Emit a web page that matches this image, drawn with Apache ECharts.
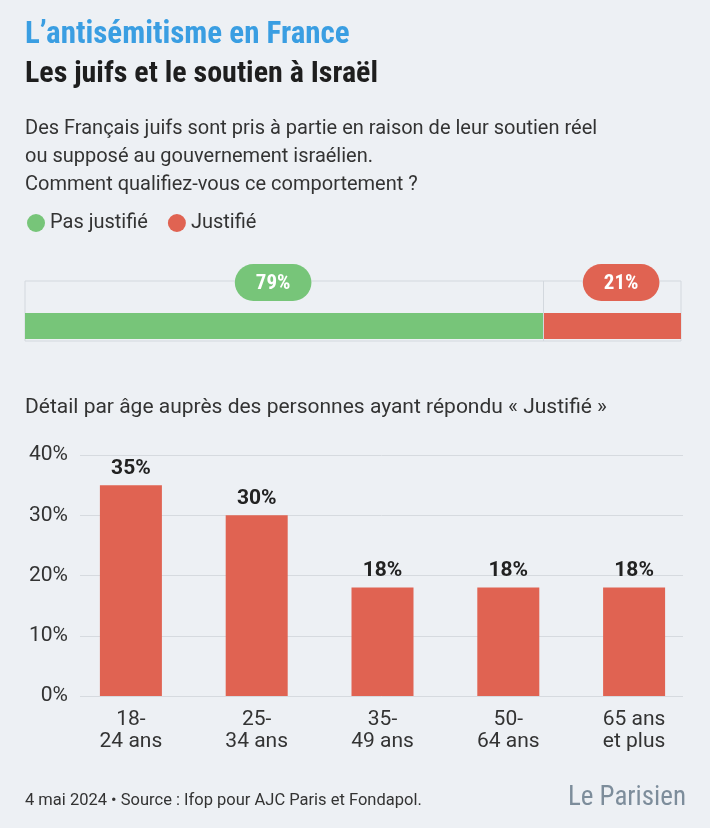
<!DOCTYPE html>
<html><head><meta charset="utf-8">
<script src="https://cdn.jsdelivr.net/npm/echarts@6/dist/echarts.min.js"></script>
<style>html,body{margin:0;padding:0;background:#edf0f4;}#c{width:710px;height:828px;}</style>
</head><body><div id="c"></div>
<script>
const COND = '"Roboto Condensed","Liberation Sans Narrow","DejaVu Sans Condensed","Roboto",sans-serif';
const FONT = '"Roboto","Liberation Sans",sans-serif';
const titleLines = ["L\u2019antisémitisme en France", "Les juifs et le soutien à Israël"];
const question = ["Des Français juifs sont pris à partie en raison de leur soutien réel", "ou supposé au gouvernement israélien.", "Comment qualifiez-vous ce comportement ?"];
const totalNames = ["Pas justifié", "Justifié"];
const totalValues = [79, 21];
const detailTitle = "Détail par âge auprès des personnes ayant répondu « Justifié »";
const ageCategories = ["18-\n24 ans", "25-\n34 ans", "35-\n49 ans", "50-\n64 ans", "65 ans\net plus"];
const ageValues = [35, 30, 18, 18, 18];
const yTicks = [0, 10, 20, 30, 40];
const footer = "4 mai 2024 • Source : Ifop pour AJC Paris et Fondapol.";
const logo = "Le Parisien";
const GREEN = '#77c579', RED = '#e06352';

const chart = echarts.init(document.getElementById('c'));
chart.setOption({
  backgroundColor: '#edf0f4',
  textStyle: {fontFamily: FONT},
  title: [
    {text: titleLines[0], left: 25, top: 20, padding: 0, textStyle: {fontFamily: COND, fontSize: 31, fontWeight: 'bold', color: '#3a9ee2'}},
    {text: titleLines[1], left: 25, top: 59, padding: 0, textStyle: {fontFamily: COND, fontSize: 30, fontWeight: 'bold', color: '#1e1e1e'}},
    {text: question.join('\n'), left: 25, top: 115, padding: 0, textStyle: {fontFamily: FONT, fontSize: 20, fontWeight: 'normal', color: '#333', lineHeight: 28}},
    {text: detailTitle, left: 25, top: 397, padding: 0, textStyle: {fontFamily: FONT, fontSize: 21, fontWeight: 'normal', color: '#333'}},
    {text: footer, left: 25, top: 792, padding: 0, textStyle: {fontFamily: FONT, fontSize: 16.5, fontWeight: 'normal', color: '#333'}},
    {text: logo, right: 24, top: 785, padding: 0, textStyle: {fontFamily: COND, fontSize: 27, fontWeight: 'normal', color: '#7d8d9b'}}
  ],
  legend: {
    data: totalNames, left: 22, top: 208, icon: 'circle', itemWidth: 18, itemHeight: 18, itemGap: 20,
    textStyle: {fontFamily: FONT, fontSize: 20, color: '#333'}
  },
  grid: [
    {left: 68, width: 629, top: 455, height: 241},
    {left: 80, width: 603, top: 455, height: 241},
    {left: 25, width: 656, top: 281, height: 60, show: true, borderColor: '#d3d8de', borderWidth: 1, backgroundColor: 'transparent'}
  ],
  xAxis: [
    {gridIndex: 0, type: 'category', data: ageCategories, axisLine: {show: false}, axisTick: {show: false},
     axisLabel: {fontFamily: FONT, fontSize: 21, color: '#333', lineHeight: 22, margin: 13}},
    {gridIndex: 1, type: 'value', min: 0, max: 1, show: false},
    {gridIndex: 2, type: 'value', min: 0, max: totalValues[0] + totalValues[1], show: false}
  ],
  yAxis: [
    {gridIndex: 0, type: 'value', min: yTicks[0], max: yTicks[yTicks.length - 1], interval: 10, show: false},
    {gridIndex: 1, type: 'value', min: yTicks[0], max: yTicks[yTicks.length - 1], interval: 10,
     axisLine: {show: false}, axisTick: {show: false},
     axisLabel: {formatter: '{value}%', fontFamily: FONT, fontSize: 21, color: '#333', margin: 12},
     splitLine: {lineStyle: {color: '#d6dadf', width: 1}}},
    {gridIndex: 2, type: 'category', data: ['a', 'b'], show: false}
  ],
  series: [
    {name: 'Justifié par âge', type: 'bar', xAxisIndex: 0, yAxisIndex: 0, data: ageValues, barWidth: 62,
     itemStyle: {color: RED},
     label: {show: true, position: 'top', distance: 6, formatter: '{c}%', fontFamily: FONT, fontSize: 21, fontWeight: 'bold', color: '#222'}},
    {name: totalNames[0], type: 'bar', stack: 'tot', xAxisIndex: 2, yAxisIndex: 2, data: [totalValues[0], '-'], barWidth: 26,
     itemStyle: {color: GREEN},
     label: {show: true, position: 'top', distance: 12, offset: [-11, 0], formatter: '{c}%', backgroundColor: GREEN, color: '#fff',
             borderRadius: 19, padding: [9, 21, 7, 21], fontFamily: COND, fontSize: 21, fontWeight: 'bold'},
     markLine: {silent: true, symbol: 'none', label: {show: false}, lineStyle: {color: '#d3d8de', type: 'solid', width: 1},
                data: [{xAxis: totalValues[0]}]}},
    {name: totalNames[1], type: 'bar', stack: 'tot', xAxisIndex: 2, yAxisIndex: 2, data: [totalValues[1], '-'], barWidth: 26,
     itemStyle: {color: RED},
     label: {show: true, position: 'top', distance: 12, offset: [9, 0], formatter: '{c}%', backgroundColor: RED, color: '#fff',
             borderRadius: 19, padding: [9, 21, 7, 21], fontFamily: COND, fontSize: 21, fontWeight: 'bold'}}
  ]
});
</script></body></html>
